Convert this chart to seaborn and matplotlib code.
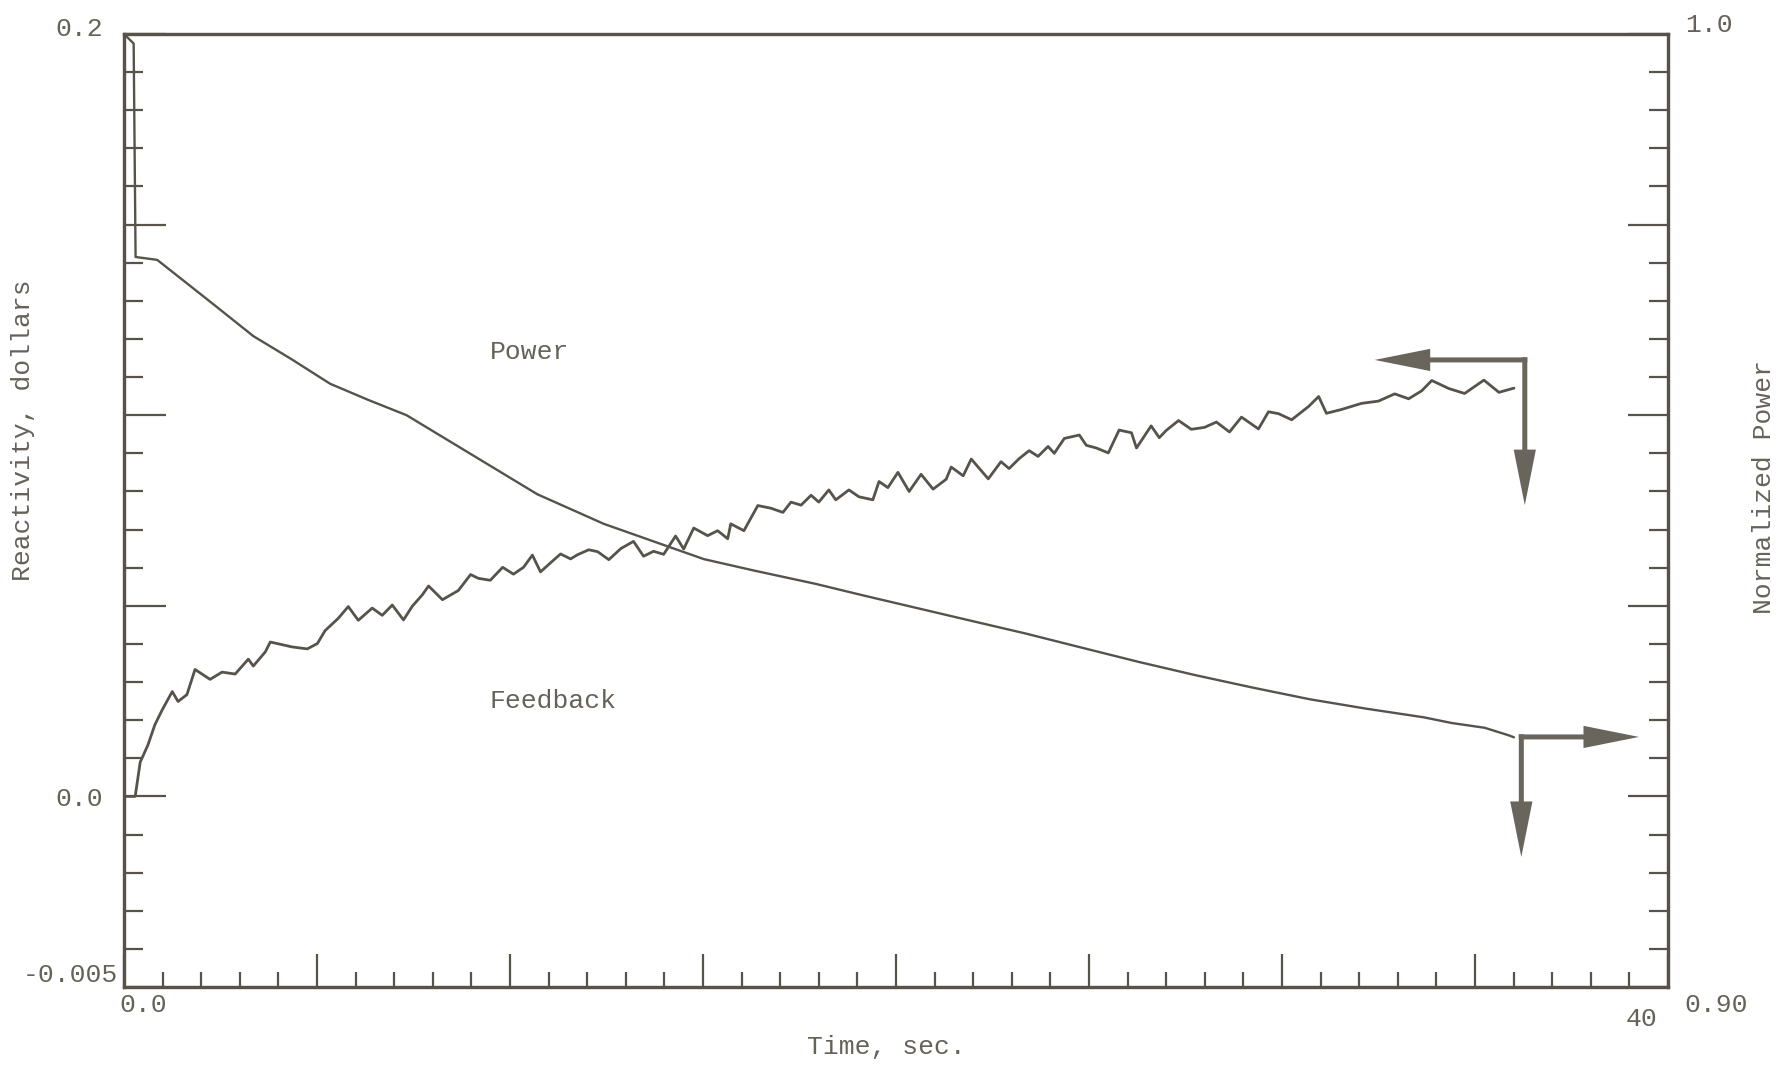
import matplotlib
matplotlib.use("Agg")
import matplotlib.pyplot as plt
import numpy as np
import pandas as pd
import seaborn as sns
from matplotlib.patches import FancyArrowPatch
from matplotlib.ticker import FixedLocator
from matplotlib.transforms import ScaledTranslation

# ---------------------------------------------------------------- data
# Feedback reactivity (dollars) against time (s)
fb_time = [0.00, 0.29, 0.42, 0.47, 0.62, 0.80, 0.99, 1.25, 1.40, 1.63,
           1.84, 2.23, 2.54, 2.88, 3.22, 3.35, 3.66, 3.79, 4.36, 4.75,
           5.01, 5.21, 5.55, 5.81, 6.07, 6.43, 6.69, 6.95, 7.24, 7.47,
           7.73, 7.89, 8.25, 8.66, 8.98, 9.18, 9.49, 9.81, 10.09, 10.35,
           10.58, 10.79, 11.13, 11.31, 11.57, 11.75, 12.04, 12.27, 12.56, 12.87,
           13.20, 13.46, 13.72, 13.98, 14.29, 14.50, 14.76, 15.12, 15.38, 15.64,
           15.72, 16.06, 16.42, 16.76, 17.07, 17.28, 17.54, 17.80, 18.00, 18.26,
           18.44, 18.78, 19.04, 19.40, 19.56, 19.79, 20.05, 20.34, 20.65, 20.96,
           21.30, 21.43, 21.74, 21.95, 22.39, 22.72, 22.93, 23.19, 23.45, 23.68,
           23.94, 24.10, 24.36, 24.75, 24.93, 25.19, 25.50, 25.78, 26.10, 26.23,
           26.61, 26.82, 27.00, 27.32, 27.65, 27.99, 28.30, 28.64, 28.95, 29.39,
           29.65, 29.91, 30.25, 30.69, 30.95, 31.15, 31.54, 32.06, 32.50, 32.92,
           33.28, 33.62, 33.88, 34.32, 34.73, 35.23, 35.62, 36.01]
fb_dollars = [0.0000, 0.0000, 0.0090, 0.0101, 0.0135, 0.0188, 0.0227, 0.0275, 0.0249, 0.0267,
              0.0333, 0.0307, 0.0326, 0.0321, 0.0360, 0.0342, 0.0379, 0.0405, 0.0392, 0.0387,
              0.0401, 0.0435, 0.0467, 0.0498, 0.0462, 0.0494, 0.0475, 0.0502, 0.0463, 0.0499,
              0.0529, 0.0552, 0.0516, 0.0540, 0.0582, 0.0572, 0.0567, 0.0601, 0.0583, 0.0601,
              0.0633, 0.0589, 0.0620, 0.0636, 0.0623, 0.0634, 0.0647, 0.0642, 0.0621, 0.0650,
              0.0669, 0.0630, 0.0643, 0.0635, 0.0683, 0.0649, 0.0704, 0.0684, 0.0697, 0.0676,
              0.0715, 0.0697, 0.0763, 0.0756, 0.0745, 0.0772, 0.0764, 0.0790, 0.0772, 0.0804,
              0.0778, 0.0804, 0.0786, 0.0778, 0.0826, 0.0810, 0.0850, 0.0800, 0.0845, 0.0806,
              0.0832, 0.0864, 0.0841, 0.0885, 0.0833, 0.0878, 0.0860, 0.0886, 0.0907, 0.0892,
              0.0918, 0.0900, 0.0939, 0.0948, 0.0921, 0.0914, 0.0901, 0.0961, 0.0954, 0.0914,
              0.0972, 0.0941, 0.0960, 0.0986, 0.0963, 0.0968, 0.0982, 0.0956, 0.0995, 0.0964,
              0.1009, 0.1004, 0.0988, 0.1023, 0.1049, 0.1005, 0.1015, 0.1031, 0.1037, 0.1056,
              0.1043, 0.1064, 0.1091, 0.1070, 0.1057, 0.1092, 0.1060, 0.1071]

# Normalized power against time (s)
pw_time = [0.00, 0.25, 0.30, 0.49, 0.86, 2.36, 3.35, 4.33, 5.34, 6.33,
           7.32, 8.30, 10.71, 12.43, 13.83, 15.02, 16.32, 17.92, 19.14, 21.87,
           23.35, 24.82, 26.30, 27.78, 29.26, 30.71, 32.19, 33.67, 34.40, 35.25,
           35.88, 36.01]
pw_norm = [1.0000, 0.9990, 0.9766, 0.9765, 0.9763, 0.9715, 0.9683, 0.9659, 0.9633, 0.9616,
           0.9600, 0.9576, 0.9517, 0.9486, 0.9466, 0.9449, 0.9437, 0.9423, 0.9411, 0.9385,
           0.9371, 0.9356, 0.9341, 0.9327, 0.9314, 0.9302, 0.9292, 0.9283, 0.9277, 0.9272,
           0.9264, 0.9262]

# Axis ticks and labels
x_major = [0, 5, 10, 15, 20, 25, 30, 35, 40]
x_major_labels = ["0.0", "", "", "", "", "", "", "", "40"]
left_major = [-0.05, 0.0, 0.05, 0.10, 0.15, 0.20]
left_major_labels = ["-0.005", "0.0", "", "", "", "0.2"]
right_major = [0.90, 0.92, 0.94, 0.96, 0.98, 1.00]
right_major_labels = ["0.90", "", "", "", "", "1.0"]

# ---------------------------------------------------------------- style
INK = "#57534b"
TEXT = "#66625a"
ARROW = "#69655c"
DPI = 100
FS = 19

sns.set_theme(style="white")
plt.rcParams["font.family"] = ["Liberation Mono", "DejaVu Sans Mono"]
plt.rcParams["axes.unicode_minus"] = False

fig = plt.figure(figsize=(17.84, 10.65), dpi=DPI, facecolor="white")
W, H = 1784, 1065
left_px, right_px, top_px, bot_px = 124, 1668, 34, 987
ax = fig.add_axes([left_px / W, 1 - bot_px / H,
                   (right_px - left_px) / W, (bot_px - top_px) / H])
ax2 = ax.twinx()

fb_df = pd.DataFrame({"time": fb_time, "reactivity": fb_dollars})
pw_df = pd.DataFrame({"time": pw_time, "power": pw_norm})

sns.lineplot(data=fb_df, x="time", y="reactivity", ax=ax, color=INK,
             lw=2.0, estimator=None, sort=False, legend=False)
sns.lineplot(data=pw_df, x="time", y="power", ax=ax2, color=INK,
             lw=1.7, estimator=None, sort=False, legend=False)

ax.set_xlim(0, 40)
ax.set_ylim(-0.05, 0.20)
ax2.set_ylim(0.90, 1.00)

for a in (ax, ax2):
    a.set_facecolor("none")
    for s in a.spines.values():
        s.set_color(INK)
        s.set_linewidth(2.3)

# bottom ticks
ax.set_xticks(x_major)
ax.set_xticklabels(x_major_labels)
ax.xaxis.set_minor_locator(FixedLocator(np.arange(0, 41, 1)))
ax.tick_params(axis="x", which="major", direction="in", length=24, width=1.6,
               color=INK, labelcolor=TEXT, labelsize=FS, pad=4,
               top=False, bottom=True)
ax.tick_params(axis="x", which="minor", direction="in", length=11, width=1.6,
               color=INK, top=False, bottom=True)

# left ticks (reactivity)
ax.set_yticks(left_major)
ax.set_yticklabels(left_major_labels)
ax.yaxis.set_minor_locator(FixedLocator(np.arange(-0.05, 0.2001, 0.01)))
ax.tick_params(axis="y", which="major", direction="in", length=30, width=1.6,
               color=INK, labelcolor=TEXT, labelsize=FS, pad=15,
               left=True, right=False)
ax.tick_params(axis="y", which="minor", direction="in", length=14, width=1.6,
               color=INK, left=True, right=False)

# right ticks (normalized power)
ax2.set_yticks(right_major)
ax2.set_yticklabels(right_major_labels)
ax2.yaxis.set_minor_locator(FixedLocator(np.arange(0.90, 1.0001, 0.004)))
ax2.tick_params(axis="y", which="major", direction="in", length=29, width=1.6,
                color=INK, labelcolor=TEXT, labelsize=FS, pad=12,
                left=False, right=True)
ax2.tick_params(axis="y", which="minor", direction="in", length=14, width=1.6,
                color=INK, left=False, right=True)

# axis titles
ax.set_xlabel("Time, sec.", fontsize=FS, color=TEXT, va="center")
ax.xaxis.set_label_coords(0.494, -0.063)
ax.set_ylabel("Reactivity, dollars", fontsize=FS, color=TEXT, va="center")
ax.yaxis.set_label_coords(-0.0654, 0.5845)
ax2.set_ylabel("Normalized Power", fontsize=FS, color=TEXT, va="center",
               rotation=90)
ax2.yaxis.set_label_coords(1.0622, 0.5247)

# curve captions
ax.text(9.47, 0.1166, "Power", fontsize=FS, color=TEXT, ha="left", va="center")
ax.text(9.47, 0.0250, "Feedback", fontsize=FS, color=TEXT, ha="left", va="center")

# axis-reading arrows (filled shapes so the tips land exactly on target)
arrow_style = "simple,head_length=4.0,head_width=1.6,tail_width=0.36"


def arrow(start, end):
    ax.add_patch(FancyArrowPatch(start, end, arrowstyle=arrow_style,
                                 mutation_scale=10, color=ARROW, lw=0,
                                 shrinkA=0, shrinkB=0, zorder=3))


hx, hy = 0.065, 0.0007          # half the shaft width in data units
arrow((36.29 + hx, 0.1145), (32.40, 0.1145))
arrow((36.29, 0.1145 + hy), (36.29, 0.0764))
arrow((36.20 - hx, 0.0156), (39.25, 0.0156))
arrow((36.20, 0.0156 + hy), (36.20, -0.0159))


def nudge(txt, dx_px, dy_px):
    txt.set_transform(txt.get_transform() +
                      ScaledTranslation(dx_px / DPI, dy_px / DPI, fig.dpi_scale_trans))


lt = ax.yaxis.get_major_ticks()
nudge(lt[0].label1, 15, 15)
nudge(lt[-1].label1, 0, 8)
rt = ax2.yaxis.get_major_ticks()
nudge(rt[0].label2, 0, -15)
nudge(rt[-1].label2, 0, 11)
bt = ax.xaxis.get_major_ticks()
nudge(bt[0].label1, 19, 0)
nudge(bt[-1].label1, -26, -14)

fig.savefig("out.png", dpi=DPI, facecolor="white")
